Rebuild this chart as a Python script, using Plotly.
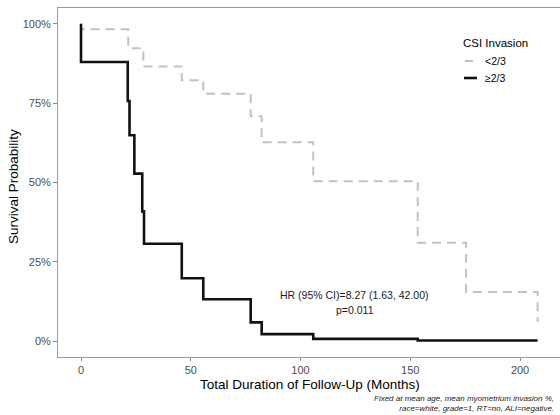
import plotly.graph_objects as go

# ---- data ----
times_low = [0, 0, 21.5, 28.4, 45.9, 55.7, 77.3, 82.3, 105.8, 153.4, 175.4, 208]
surv_low = [1.0, 0.983, 0.923, 0.866, 0.822, 0.780, 0.709, 0.627, 0.504, 0.310, 0.155, 0.06]

times_high = [0, 0, 21.3, 22.1, 24.3, 27.9, 28.7, 45.9, 55.7, 77.3, 82.3, 105.8, 153.4, 208]
surv_high = [1.0, 0.88, 0.757, 0.649, 0.528, 0.409, 0.307, 0.198, 0.132, 0.059, 0.022, 0.007, 0.002, 0.002]

series_names = ["<2/3", "\u22652/3"]
x_ticks = [0, 50, 100, 150, 200]
y_ticks = [0, 0.25, 0.5, 0.75, 1.0]
y_tick_labels = ["0%", "25%", "50%", "75%", "100%"]

FONT = "Liberation Sans, Arial, sans-serif"
W, H = 560, 415
ML, MR, MT, MB = 58, 0, 8, 58
PW, PH = W - ML - MR, H - MT - MB


def px(x):
    return (x - ML) / PW


def py(y):
    return (H - MB - y) / PH


fig = go.Figure()
fig.add_trace(go.Scatter(x=times_low, y=surv_low, mode="lines", name=series_names[0],
                         line=dict(shape="hv", color="#c2c2c2", width=2, dash="9px,6px"),
                         showlegend=False))
fig.add_trace(go.Scatter(x=times_high, y=surv_high, mode="lines", name=series_names[1],
                         line=dict(shape="hv", color="#111111", width=2.6),
                         showlegend=False))

# manual legend (ggplot-style compact keys)
fig.add_annotation(xref="paper", yref="paper", x=px(461), y=py(43), text="CSI Invasion",
                   showarrow=False, xanchor="left", yanchor="middle",
                   font=dict(family=FONT, size=11.5, color="#000000"))
fig.add_shape(type="line", xref="paper", yref="paper", x0=px(465), x1=px(473), y0=py(61), y1=py(61),
              line=dict(color="#c2c2c2", width=2))
fig.add_shape(type="line", xref="paper", yref="paper", x0=px(464), x1=px(477), y0=py(78), y1=py(78),
              line=dict(color="#111111", width=2.6))
fig.add_annotation(xref="paper", yref="paper", x=px(483), y=py(61), text="&lt;2/3",
                   showarrow=False, xanchor="left", yanchor="middle",
                   font=dict(family=FONT, size=10.5, color="#000000"))
fig.add_annotation(xref="paper", yref="paper", x=px(483), y=py(78), text="\u22652/3",
                   showarrow=False, xanchor="left", yanchor="middle",
                   font=dict(family=FONT, size=10.5, color="#000000"))

# HR annotation
fig.add_annotation(x=124.8, y=0.145, text="HR (95% CI)=8.27 (1.63, 42.00)", showarrow=False,
                   xanchor="center", yanchor="middle", font=dict(family=FONT, size=10.5, color="#1a1a1a"))
fig.add_annotation(x=124.8, y=0.098, text="p=0.011", showarrow=False,
                   xanchor="center", yanchor="middle", font=dict(family=FONT, size=10.5, color="#1a1a1a"))

# axis titles
fig.add_annotation(xref="paper", yref="paper", x=px(310), y=py(384),
                   text="Total Duration of Follow-Up (Months)", showarrow=False,
                   xanchor="center", yanchor="middle", font=dict(family=FONT, size=13.5, color="#000000"))
fig.add_annotation(xref="paper", yref="paper", x=px(13), y=py(187),
                   text="Survival Probability", showarrow=False, textangle=-90,
                   xanchor="center", yanchor="middle", font=dict(family=FONT, size=13.5, color="#000000"))

# footnote
fig.add_annotation(xref="paper", yref="paper", x=px(556), y=py(403),
                   text="<i>Fixed at mean age, mean myometrium invasion %,<br>race=white, grade=1, RT=no, ALI=negative.</i>",
                   showarrow=False, xanchor="right", yanchor="middle", align="right",
                   font=dict(family=FONT, size=8, color="#1a1a1a"))

fig.update_layout(
    width=W, height=H,
    margin=dict(l=ML, r=MR, t=MT, b=MB, pad=0, autoexpand=False),
    paper_bgcolor="white", plot_bgcolor="white",
    font=dict(family=FONT),
    showlegend=False,
)
fig.update_xaxes(range=[-10.48, 218.2], tickvals=x_ticks, showgrid=False, zeroline=False,
                 showline=True, linecolor="#9a9a9a", linewidth=1, mirror=True, automargin=False,
                 ticks="outside", ticklen=3, tickcolor="#8a8a8a",
                 tickfont=dict(family=FONT, size=11, color="#4d4d4d"))
fig.update_yaxes(range=[-0.05, 1.05], tickvals=y_ticks, ticktext=y_tick_labels, showgrid=False,
                 zeroline=False, showline=True, linecolor="#9a9a9a", linewidth=1, automargin=False,
                 ticks="outside", ticklen=4, tickcolor="#8a8a8a",
                 tickfont=dict(family=FONT, size=11, color="#4d4d4d"))

fig.write_html("out.html", config={"displayModeBar": False},
               post_script="document.body.style.margin='0px';document.body.style.overflow='hidden';")
